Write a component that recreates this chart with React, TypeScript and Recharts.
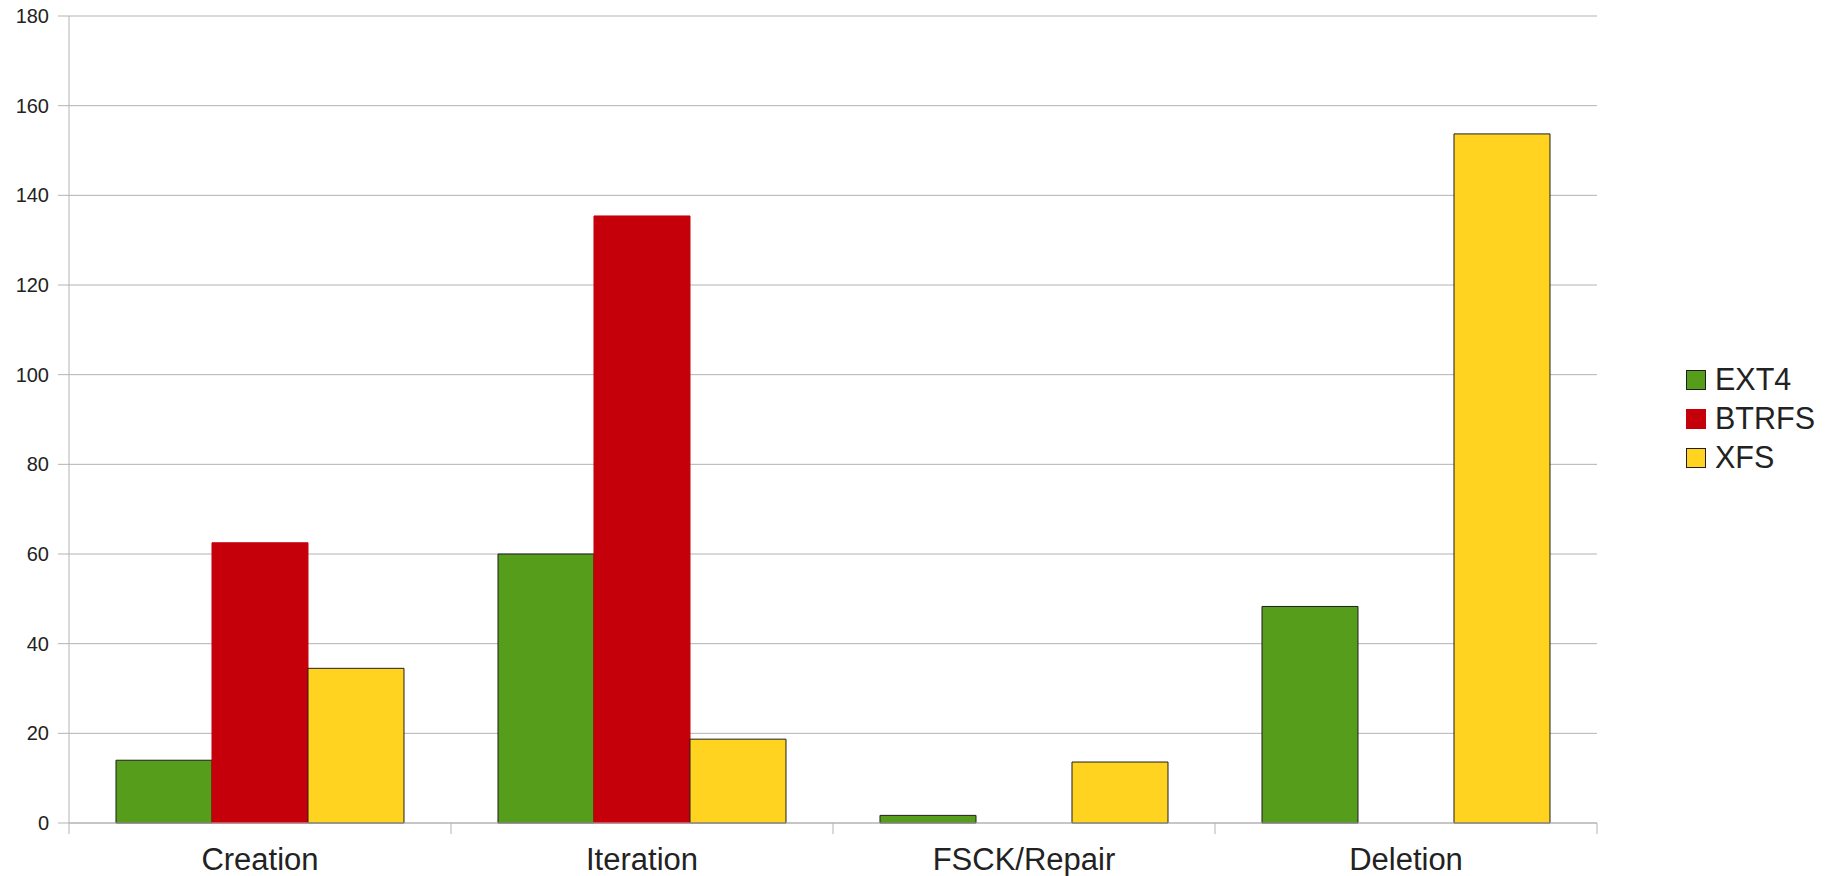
import { Bar, BarChart, CartesianGrid, Legend, XAxis, YAxis } from 'recharts';

const CATEGORIES = ['Creation', 'Iteration', 'FSCK/Repair', 'Deletion'];
const EXT4 = [14.0, 60.0, 1.7, 48.3];
const BTRFS: Array<number | null> = [62.5, 135.4, null, null];
const XFS = [34.5, 18.7, 13.6, 153.7];
const Y_TICKS = [0, 20, 40, 60, 80, 100, 120, 140, 160, 180];

const SERIES = [
  { key: 'EXT4', fill: '#579d1c', stroke: '#1e1e1e' },
  { key: 'BTRFS', fill: '#c5000b', stroke: '#c5000b' },
  { key: 'XFS', fill: '#ffd320', stroke: '#1e1e1e' },
];

const data = CATEGORIES.map((name, i) => ({
  name,
  EXT4: EXT4[i],
  BTRFS: BTRFS[i],
  XFS: XFS[i],
}));

const AXIS = '#b3b3b3';
const TEXT = '#222222';
const FONT = '"Liberation Sans", Arial, sans-serif';
const X_TICK_SIZE = 11;
const X_TICK_MARGIN = 14;

// category label plus tick marks at the band edges (not at band centres)
function CategoryTick(props: any) {
  const { x, y, payload, index, visibleTicksCount } = props;
  const half = payload && typeof payload.offset === 'number' && payload.offset > 0 ? payload.offset : 191;
  const axisY = y - X_TICK_SIZE - X_TICK_MARGIN;
  const isLast = index === (visibleTicksCount ?? CATEGORIES.length) - 1;
  return (
    <g>
      <line x1={x - half} x2={x - half} y1={axisY} y2={axisY + X_TICK_SIZE} stroke={AXIS} />
      {isLast && <line x1={x + half} x2={x + half} y1={axisY} y2={axisY + X_TICK_SIZE} stroke={AXIS} />}
      <text x={x} y={y} dy="0.71em" textAnchor="middle" fontSize={31} fill={TEXT}>
        {payload.value}
      </text>
    </g>
  );
}

function LegendBox() {
  return (
    <div style={{ fontFamily: FONT }}>
      {SERIES.map((s) => (
        <div key={s.key} style={{ display: 'flex', alignItems: 'center', height: 39 }}>
          <span
            style={{
              display: 'inline-block',
              boxSizing: 'border-box',
              width: 20,
              height: 20,
              background: s.fill,
              border: `1px solid ${s.stroke}`,
            }}
          />
          <span style={{ marginLeft: 9, fontSize: 30.5, color: TEXT, lineHeight: '39px' }}>{s.key}</span>
        </div>
      ))}
    </div>
  );
}

export default function App() {
  return (
    <div style={{ position: 'absolute', left: 0, top: 0, width: 1837, height: 876, background: '#fff' }}>
      <BarChart
        width={1837}
        height={876}
        data={data}
        margin={{ top: 16, right: 89, left: 0, bottom: 0 }}
        barCategoryGap="12.3%"
        barGap={0}
        style={{ fontFamily: FONT }}
      >
        <CartesianGrid yAxisId="left" vertical={false} stroke={AXIS} />
        <XAxis
          dataKey="name"
          height={53}
          axisLine={{ stroke: AXIS }}
          tickLine={false}
          tickSize={X_TICK_SIZE}
          tickMargin={X_TICK_MARGIN}
          tick={<CategoryTick />}
          interval={0}
        />
        <YAxis
          yAxisId="left"
          width={69}
          domain={[0, 180]}
          ticks={Y_TICKS}
          axisLine={{ stroke: AXIS }}
          tickLine={{ stroke: AXIS }}
          tickSize={11}
          tickMargin={9}
          tick={{ fontSize: 20, fill: TEXT }}
        />
        <YAxis
          yAxisId="right"
          orientation="right"
          width={0}
          domain={[0, 180]}
          tick={false}
          tickLine={false}
          axisLine={{ stroke: AXIS }}
        />
        <Legend
          layout="vertical"
          align="right"
          verticalAlign="middle"
          content={() => <LegendBox />}
          wrapperStyle={{ right: 0, left: 'auto', top: 360, width: 151 }}
        />
        {SERIES.map((s) => (
          <Bar
            key={s.key}
            dataKey={s.key}
            yAxisId="left"
            fill={s.fill}
            stroke={s.stroke}
            strokeWidth={1}
            isAnimationActive={false}
          />
        ))}
      </BarChart>
    </div>
  );
}
